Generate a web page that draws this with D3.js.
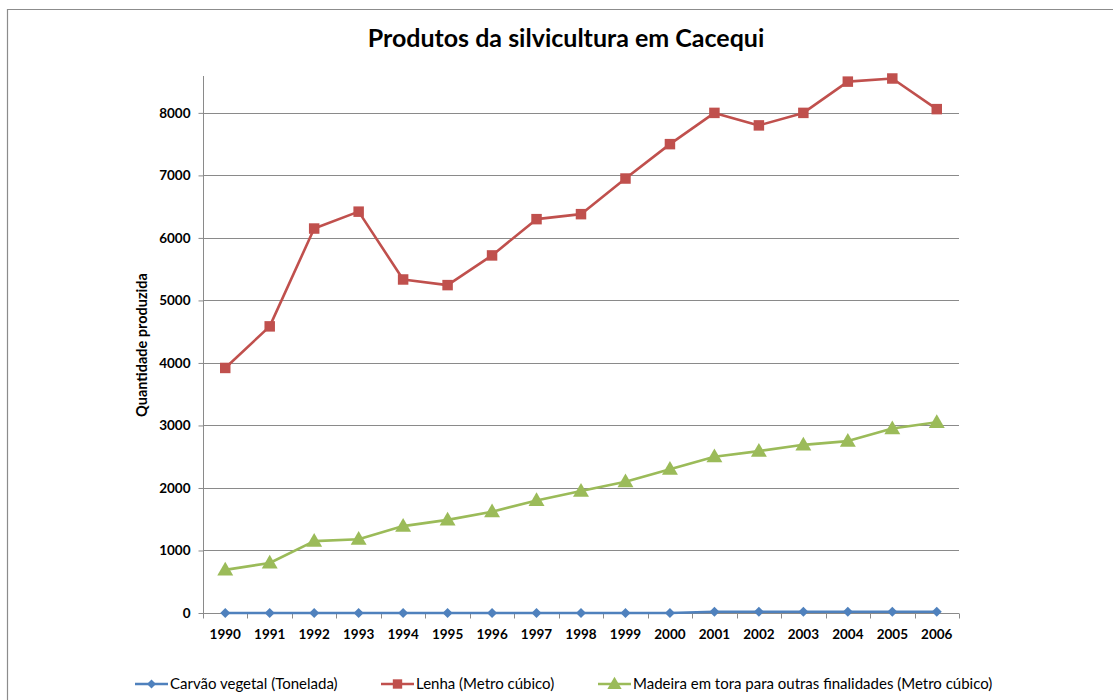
<!DOCTYPE html>
<html>
<head>
<meta charset="utf-8">
<script src="https://cdn.jsdelivr.net/npm/d3@7"></script>
<style>
  body { margin: 0; background: #fff; }
  svg { display: block; }
</style>
</head>
<body>
<svg id="chart" width="1113" height="700"></svg>
<script>
const years = ["1990","1991","1992","1993","1994","1995","1996","1997","1998","1999","2000","2001","2002","2003","2004","2005","2006"];
const carvao = [0,0,0,0,0,0,0,0,0,0,0,20,20,20,20,20,20];
const lenha = [3920,4585,6150,6420,5335,5245,5720,6300,6380,6950,7500,8000,7800,8000,8500,8550,8060];
const madeira = [690,800,1150,1180,1390,1490,1620,1800,1950,2100,2300,2500,2590,2690,2750,2950,3050];
const yTicks = [0,1000,2000,3000,4000,5000,6000,7000,8000];
const seriesNames = ["Carvão vegetal (Tonelada)","Lenha (Metro cúbico)","Madeira em tora para outras finalidades (Metro cúbico)"];
const title = "Produtos da silvicultura em Cacequi";
const yTitle = "Quantidade produzida";

(function(){
const colors = ["#4F81BD","#C0504D","#9BBB59"];
const shapes = [d3.symbolSquare, d3.symbolSquare, d3.symbolTriangle];
const rotations = [45, 0, 0];
const symSizes = [50, 110, 110];
const series = [carvao, lenha, madeira];

const svg = d3.select("#chart");
const font = "Lato, 'Open Sans', sans-serif";

svg.append("path").attr("d","M7.5,700 V9.5 H1113").attr("fill","none").attr("stroke","#8c8c8c").attr("stroke-width",1.2);

const pL = 203, pR = 959, pT = 76, pB = 613;
const x = d3.scaleBand().domain(years).range([pL, pR]);
const y = d3.scaleLinear().domain([0, 8590]).range([pB, pT]);

svg.append("g").selectAll("line").data(yTicks.filter(d=>d>0)).join("line")
  .attr("x1", pL).attr("x2", pR)
  .attr("y1", d=>Math.round(y(d))+0.5).attr("y2", d=>Math.round(y(d))+0.5)
  .attr("stroke","#8a8a8a").attr("stroke-width",1);

const yAxis = svg.append("g").attr("transform",`translate(${pL+0.5},0)`)
  .call(d3.axisLeft(y).tickValues(yTicks).tickSize(5).tickPadding(8).tickFormat(d3.format("d")));
yAxis.select(".domain").attr("stroke","#8a8a8a").attr("d",`M0,${pT}V${pB}`);
yAxis.selectAll(".tick line").attr("stroke","#8a8a8a");
yAxis.selectAll(".tick text").attr("font-family",font).attr("font-weight","bold").attr("font-size",13.5).attr("fill","#000");

const xAxis = svg.append("g").attr("transform",`translate(0,${Math.round(y(0))+0.5})`)
  .call(d3.axisBottom(x).tickSize(0).tickPadding(16));
xAxis.select(".domain").attr("stroke","#8a8a8a").attr("d",`M${pL},0H${pR}`);
xAxis.selectAll(".tick text").attr("font-family",font).attr("font-weight","bold").attr("font-size",13.5).attr("fill","#000");
const bounds = years.map(d=>x(d)).concat([pR]);
xAxis.append("g").selectAll("line").data(bounds).join("line")
  .attr("x1",d=>Math.round(d)+0.5).attr("x2",d=>Math.round(d)+0.5).attr("y1",0).attr("y2",5)
  .attr("stroke","#8a8a8a");

const cx = d => x(d) + x.bandwidth()/2;

series.forEach((vals, i) => {
  const line = d3.line().x((d,j)=>cx(years[j])).y(d=>y(d));
  svg.append("path").datum(vals).attr("d", line)
    .attr("fill","none").attr("stroke",colors[i]).attr("stroke-width",2.6).attr("stroke-linejoin","round");
  svg.append("g").selectAll("path").data(vals).join("path")
    .attr("d", d3.symbol().type(shapes[i]).size(symSizes[i]))
    .attr("transform",(d,j)=>`translate(${cx(years[j])},${y(d) + (i===2?1:0)}) rotate(${rotations[i]})`)
    .attr("fill",colors[i]);
});

svg.append("text").attr("x",566).attr("y",47).attr("text-anchor","middle")
  .attr("font-family",font).attr("font-weight","bold").attr("font-size",25).attr("fill","#000").text(title);

svg.append("text").attr("transform","translate(147,345) rotate(-90)").attr("text-anchor","middle")
  .attr("font-family",font).attr("font-weight","bold").attr("font-size",14.5).attr("fill","#000").text(yTitle);

const legX = [135, 381, 598];
const lg = svg.append("g");
seriesNames.forEach((name, i) => {
  const g = lg.append("g").attr("transform",`translate(${legX[i]},684)`);
  g.append("line").attr("x1",0).attr("x2",33).attr("stroke",colors[i]).attr("stroke-width",2.6);
  g.append("path").attr("d", d3.symbol().type(shapes[i]).size(symSizes[i]*0.8))
    .attr("transform",`translate(16.5,${i===2?1:0}) rotate(${rotations[i]})`).attr("fill",colors[i]);
  g.append("text").attr("x",35).attr("y",5).attr("font-family",font).attr("font-size",15).attr("fill","#000").text(name);
});
})();
</script>
</body>
</html>
